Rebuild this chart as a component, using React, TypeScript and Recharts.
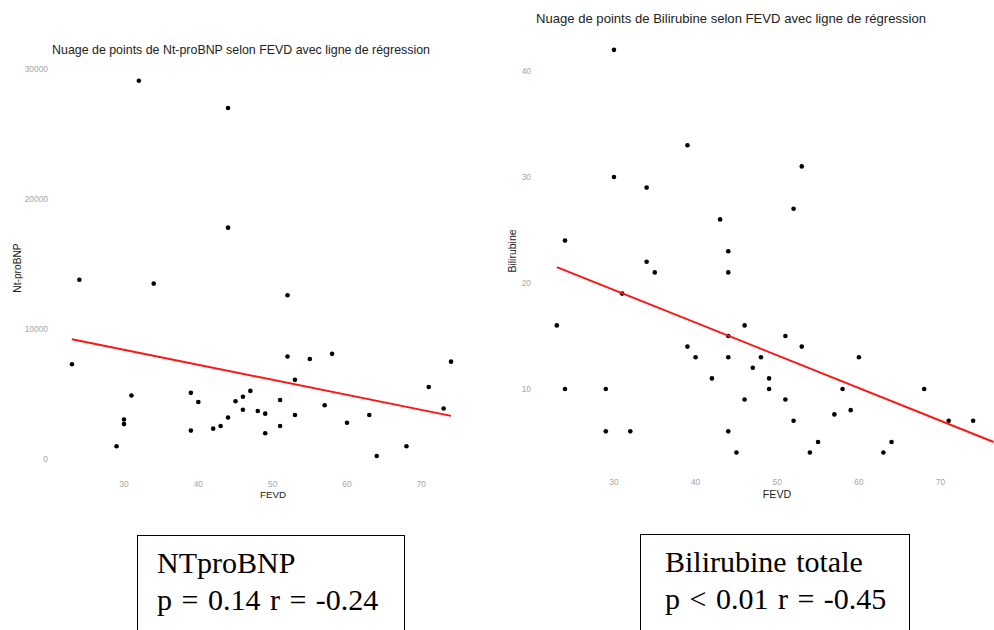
import { ScatterChart, Scatter, XAxis, YAxis } from 'recharts';

// FEVD axis ticks shared by both panels
const fevdTicks = [30, 40, 50, 60, 70];

// Nt-proBNP panel
const bnpTicks = [0, 10000, 20000, 30000];
const bnpFevd = [32, 44, 44, 24, 34, 52, 23, 31, 30, 30, 29, 39, 40, 39, 42, 43, 44, 45, 46, 46, 47, 48, 49, 49, 51, 51, 52, 53, 53, 55, 58, 57, 60, 63, 64, 68, 71, 73, 74];
const bnpValues = [29100, 27000, 17800, 13800, 13500, 12600, 7300, 4900, 3050, 2700, 1000, 5100, 4400, 2200, 2350, 2550, 3200, 4450, 4800, 3800, 5250, 3700, 3500, 2000, 4550, 2550, 7900, 6100, 3400, 7700, 8100, 4150, 2800, 3400, 250, 1000, 5550, 3900, 7500];
const bnpFitFevd = [23, 74];
const bnpFitValues = [9220, 3330];

// Bilirubine panel
const biliTicks = [10, 20, 30, 40];
const biliFevd = [30, 39, 30, 34, 53, 52, 43, 44, 24, 34, 35, 44, 23, 31, 24, 29, 29, 32, 39, 40, 42, 44, 44, 44, 45, 46, 46, 47, 48, 49, 49, 51, 51, 53, 52, 54, 55, 57, 58, 59, 60, 63, 64, 68, 71, 74];
const biliValues = [42, 33, 30, 29, 31, 27, 26, 23, 24, 22, 21, 21, 16, 19, 10, 10, 6, 6, 14, 13, 11, 15, 13, 6, 4, 16, 9, 12, 13, 11, 10, 15, 9, 14, 7, 4, 5, 7.6, 10, 8, 13, 4, 5, 10, 7, 7];
const biliFitFevd = [23, 76.5];
const biliFitValues = [21.5, 5.0];

const zip = (xs: number[], ys: number[]) => xs.map((x, i) => ({ x, y: ys[i] }));

const sans = 'Liberation Sans, Arial, sans-serif';
const serif = 'Liberation Serif, Times New Roman, serif';

const Dot = (props: any) => <circle cx={props.cx} cy={props.cy} r={2.3} fill="#000" />;
const NoDot = () => <g />;

const tickStyle = { fontSize: 8.4, fill: '#a6a6a6', fontFamily: sans };

function Panel(props: {
  left: number;
  width: number;
  top: number;
  right: number;
  bottom: number;
  yWidth: number;
  yDomain: [number, number];
  yTicks: number[];
  points: { x: number; y: number }[];
  fit: { x: number; y: number }[];
}) {
  return (
    <div style={{ position: 'absolute', left: props.left, top: 0 }}>
      <ScatterChart
        width={props.width}
        height={510}
        margin={{ top: props.top, right: props.right, bottom: props.bottom, left: 0 }}
      >
        <XAxis
          type="number"
          dataKey="x"
          domain={[20.45, 76.55]}
          ticks={fevdTicks}
          allowDataOverflow
          axisLine={false}
          tickLine={false}
          tickSize={0}
          tickMargin={6}
          height={26}
          tick={tickStyle}
        />
        <YAxis
          type="number"
          dataKey="y"
          domain={props.yDomain}
          ticks={props.yTicks}
          allowDataOverflow
          axisLine={false}
          tickLine={false}
          tickSize={0}
          tickMargin={5}
          width={props.yWidth}
          tick={tickStyle}
        />
        <Scatter data={props.points} shape={Dot} isAnimationActive={false} />
        <Scatter
          data={props.fit}
          shape={NoDot}
          line={{ stroke: '#ff1414', strokeWidth: 2 }}
          isAnimationActive={false}
        />
      </ScatterChart>
    </div>
  );
}

const textAt = (x: number, y: number, size: number, text: string, rotate = false, color = '#222') => (
  <div
    style={{
      position: 'absolute',
      left: x,
      top: y,
      transform: `translate(-50%, -50%)${rotate ? ' rotate(-90deg)' : ''}`,
      fontFamily: sans,
      fontSize: size,
      color,
      whiteSpace: 'nowrap',
      lineHeight: 1,
    }}
  >
    {text}
  </div>
);

const boxStyle = (left: number, top: number, width: number, padLeft: number) => ({
  position: 'absolute' as const,
  left,
  top,
  width,
  height: 120,
  boxSizing: 'border-box' as const,
  border: '1px solid #000',
  paddingTop: 8,
  paddingLeft: padLeft,
  fontFamily: serif,
  fontSize: 30,
  lineHeight: '37px',
  wordSpacing: 2,
  whiteSpace: 'nowrap' as const,
  color: '#000',
});

export default function App() {
  return (
    <div
      style={{
        position: 'absolute',
        left: 0,
        top: 0,
        width: 994,
        height: 630,
        background: '#fff',
        overflow: 'hidden',
      }}
    >
      <Panel
        left={0}
        width={480}
        top={61.5}
        right={10}
        bottom={9}
        yWidth={53}
        yDomain={[-1215, 30575]}
        yTicks={bnpTicks}
        points={zip(bnpFevd, bnpValues)}
        fit={zip(bnpFitFevd, bnpFitValues)}
      />
      <Panel
        left={484}
        width={510}
        top={29.7}
        right={0}
        bottom={11.3}
        yWidth={52}
        yDomain={[2.1, 43.9]}
        yTicks={biliTicks}
        points={zip(biliFevd, biliValues)}
        fit={zip(biliFitFevd, biliFitValues)}
      />

      {textAt(241, 50, 12.4, 'Nuage de points de Nt-proBNP selon FEVD avec ligne de régression')}
      {textAt(273, 495, 9.8, 'FEVD')}
      {textAt(18, 268, 10.2, 'Nt-proBNP', true)}

      {textAt(731, 18.7, 13.1, 'Nuage de points de Bilirubine selon FEVD avec ligne de régression')}
      {textAt(777, 494, 10.6, 'FEVD')}
      {textAt(512, 251, 10.5, 'Bilirubine', true)}

      <div style={boxStyle(137, 535, 268, 19)}>
        <div>NTproBNP</div>
        <div>p = 0.14 r = -0.24</div>
      </div>
      <div style={boxStyle(640, 534, 270, 24)}>
        <div>Bilirubine totale</div>
        <div>p &lt; 0.01 r = -0.45</div>
      </div>
    </div>
  );
}
